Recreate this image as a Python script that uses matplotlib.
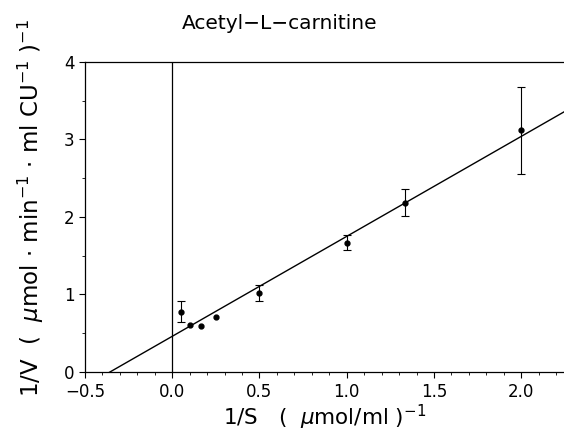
import matplotlib
matplotlib.use("Agg")
import matplotlib.pyplot as plt
import numpy as np
from matplotlib.ticker import MultipleLocator

S_inv = [0.05, 0.10, 0.167, 0.25, 0.50, 1.00, 1.333, 2.00]
V_inv = [0.78, 0.61, 0.59, 0.71, 1.02, 1.67, 2.18, 3.12]
err_lo = [0.13, 0.0, 0.0, 0.0, 0.10, 0.10, 0.17, 0.57]
err_hi = [0.14, 0.0, 0.0, 0.0, 0.10, 0.10, 0.18, 0.56]
fit_intercept = 0.46
fit_slope = 1.29
x_ticks = [-0.5, 0.0, 0.5, 1.0, 1.5, 2.0]
y_ticks = [0, 1, 2, 3, 4]

plt.rcParams['font.family'] = ['DejaVu Sans']
fig = plt.figure(figsize=(5.64, 4.32), dpi=100)
ax = fig.add_axes([0.1507, 0.139, 0.8493, 0.7175])

xs = np.array([-0.6, 2.4])
ax.plot(xs, fit_intercept + fit_slope * xs, color='black', lw=1.0)
ax.axvline(0, color='black', lw=0.9)

sx = np.array(S_inv); sy = np.array(V_inv)
lo = np.array(err_lo); hi = np.array(err_hi)
has_err = (lo > 0) | (hi > 0)
ax.errorbar(sx[has_err], sy[has_err], yerr=[lo[has_err], hi[has_err]], fmt='none',
            ecolor='black', elinewidth=0.8, capsize=3, capthick=0.8)
ax.plot(sx, sy, 'o', color='black', ms=3.5)

ax.set_xlim(-0.5, 2.245)
ax.set_ylim(0, 4)
ax.set_xticks(x_ticks)
ax.set_xticklabels([f"{t:.1f}".replace('-', '\u2212') for t in x_ticks])
ax.set_yticks(y_ticks)
ax.xaxis.set_minor_locator(MultipleLocator(0.1))
ax.yaxis.set_minor_locator(MultipleLocator(0.5))
ax.tick_params(axis='both', which='major', direction='out', length=4, labelsize=12, width=0.8)
ax.tick_params(axis='x', which='major', pad=4)
ax.tick_params(axis='both', which='minor', direction='out', length=2, width=0.6)
ax.spines['right'].set_visible(False)
for s in ['left', 'bottom', 'top']:
    ax.spines[s].set_linewidth(0.9)

ax.text(0.407, 1.125, 'Acetyl\u2212L\u2212carnitine', transform=ax.transAxes,
        fontsize=14.5, ha='center', va='center')
ax.set_xlabel(r'1/S   (  $\mu$mol/ml )$^{-1}$', fontsize=15.5)
ax.xaxis.set_label_coords(0.501, -0.1)
ax.set_ylabel(r'1/V  (  $\mu$mol $\cdot$ min$^{-1}$ $\cdot$ ml CU$^{-1}$ )$^{-1}$', fontsize=16.5)
ax.yaxis.set_label_coords(-0.082, 0.529)

fig.savefig('out.png', dpi=100)
